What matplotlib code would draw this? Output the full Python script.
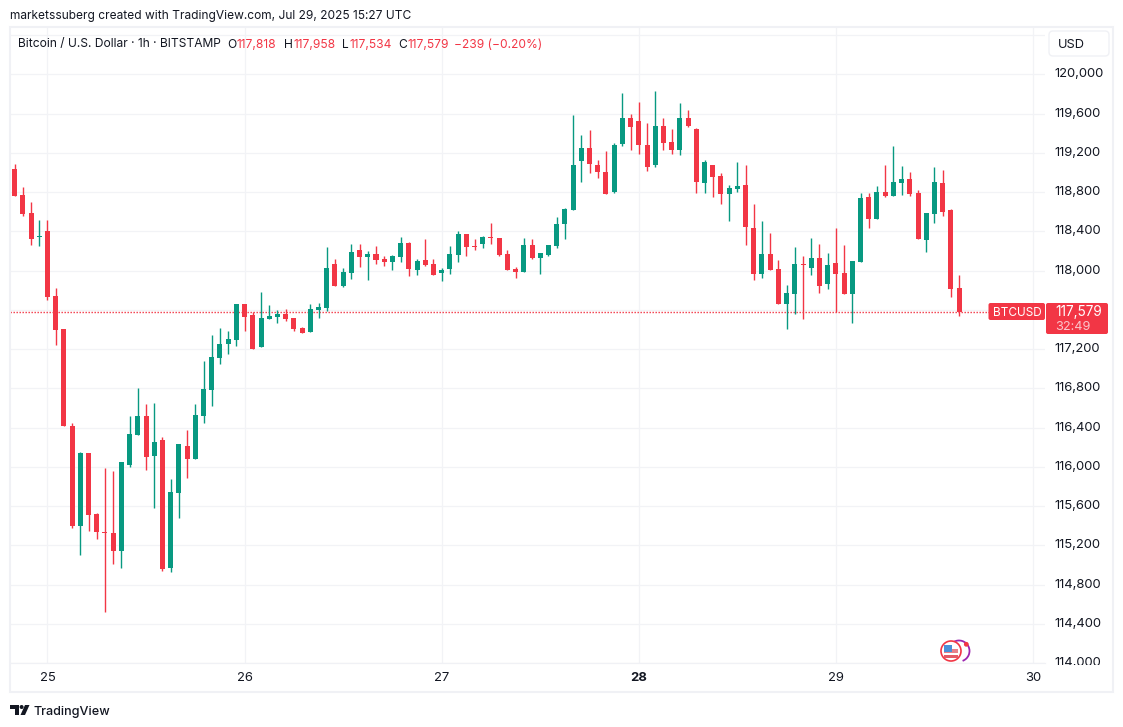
import matplotlib
matplotlib.use('Agg')
import matplotlib.pyplot as plt
from matplotlib.patches import Rectangle, FancyBboxPatch, Circle, Arc, Polygon
from matplotlib.transforms import ScaledTranslation
import numpy as np

plt.rcParams['font.family'] = ['Inter', 'DejaVu Sans']

# hourly candles, first one is Jul 24 20:00
opens = [119035, 118770, 118586, 118342, 118403, 117741, 117405, 116416, 115397, 116141, 115519, 115336,
         115326, 115142, 116019, 116324, 116518, 116110, 116273, 114969, 115733, 116212, 116080, 116518,
         116783, 117109, 117252, 117292, 117659, 117547, 117221, 117506, 117527, 117557, 117517, 117415,
         117374, 117598, 117618, 118067, 117843, 117975, 118210, 118138, 118169, 118118, 118087, 118138,
         118281, 118006, 118108, 118067, 117975, 118016, 118159, 118373, 118250, 118271, 118342, 118332,
         118169, 118016, 117985, 118260, 118128, 118159, 118250, 118474, 118617, 119116, 119249, 119076,
         119004, 118800, 119290, 119554, 119524, 119279, 119076, 119473, 119310, 119228, 119554, 119443,
         118892, 119076, 118964, 118780, 118831, 118872, 118434, 117965, 118169, 118016, 117659, 117761,
         118067, 118026, 118128, 117863, 118077, 117975, 117761, 118087, 118750, 118525, 118800, 118760,
         118892, 118933, 118790, 118311, 118576, 118892, 118617, 117818]
highs = [119086, 118851, 118699, 118515, 118515, 117822, 117405, 116447, 116151, 116141, 115530, 115988,
         115958, 116049, 116518, 116803, 116640, 116650, 116304, 115876, 116233, 116375, 116640, 117078,
         117343, 117415, 117384, 117659, 117659, 117578, 117781, 117649, 117598, 117608, 117517, 117425,
         117659, 117669, 118240, 118118, 118026, 118271, 118271, 118199, 118250, 118148, 118159, 118342,
         118291, 118118, 118322, 118118, 118026, 118250, 118403, 118373, 118322, 118352, 118485, 118332,
         118210, 118036, 118332, 118322, 118179, 118260, 118546, 118637, 119585, 119381, 119432, 119127,
         119218, 119300, 119809, 119595, 119718, 119504, 119830, 119554, 119443, 119707, 119636, 119453,
         119127, 119076, 118994, 118872, 119106, 119076, 118678, 118505, 118383, 118108, 117853, 118240,
         118148, 118332, 118271, 118179, 118434, 118260, 118097, 118790, 118790, 118862, 119076, 119269,
         119065, 119004, 118821, 118586, 119055, 119025, 118627, 117958]
lows = [118760, 118556, 118260, 118250, 117700, 117242, 116416, 115377, 115102, 115346, 115265, 114521,
        115010, 114969, 115998, 116324, 115968, 115580, 114939, 114928, 115479, 115886, 116080, 116447,
        116620, 117048, 117150, 117231, 117384, 117201, 117221, 117506, 117466, 117486, 117384, 117364,
        117374, 117517, 117588, 117843, 117832, 117914, 118036, 117904, 118067, 118046, 118006, 118087,
        117945, 117955, 118046, 117955, 117894, 117965, 118087, 118148, 118210, 118230, 118271, 118148,
        118006, 117924, 117985, 118118, 117965, 118148, 118230, 118322, 118617, 118902, 118994, 118943,
        118780, 118790, 119269, 119228, 119188, 119014, 119055, 119228, 119188, 119178, 119463, 118790,
        118790, 118750, 118678, 118505, 118800, 118260, 117904, 117924, 118006, 117659, 117405, 117557,
        117506, 117955, 117771, 117812, 117578, 117761, 117466, 118087, 118434, 118525, 118750, 118760,
        118770, 118760, 118322, 118189, 118485, 118556, 117731, 117534]
closes = [118760, 118576, 118322, 118352, 117731, 117394, 116416, 115397, 116141, 115509, 115336, 115326,
          115142, 116049, 116335, 116518, 116100, 116253, 114959, 115743, 116233, 116080, 116528, 116793,
          117119, 117252, 117303, 117659, 117527, 117201, 117517, 117537, 117557, 117506, 117405, 117364,
          117608, 117629, 118026, 117843, 117985, 118189, 118138, 118169, 118108, 118087, 118148, 118281,
          118016, 118097, 118057, 117955, 118006, 118169, 118373, 118240, 118240, 118342, 118332, 118159,
          118006, 117985, 118260, 118128, 118179, 118260, 118474, 118627, 119076, 119249, 119086, 119004,
          118780, 119279, 119554, 119463, 119279, 119055, 119473, 119300, 119228, 119554, 119473, 118902,
          119106, 118953, 118780, 118841, 118862, 118444, 117965, 118169, 118006, 117659, 117771, 118067,
          118057, 118128, 117843, 118057, 117965, 117761, 118097, 118739, 118525, 118800, 118760, 118902,
          118933, 118780, 118322, 118586, 118902, 118597, 117812, 117579]

price_ticks = [114000, 114400, 114800, 115200, 115600, 116000, 116400, 116800, 117200, 117600,
               118000, 118400, 118800, 119200, 119600, 120000]
day_ticks = [0, 24, 48, 72, 96, 120]
day_labels = ['25', '26', '27', '28', '29', '30']

RED = '#F23645'
GREEN = '#089981'
GRID = '#F2F3F6'
FRAME = '#F0F1F5'
TEXT = '#131722'
W, H = 1123, 727


def rect(x0, y0, x1, y1):
    # pixel box (y down) -> figure fraction
    return [x0 / W, 1 - y1 / H, (x1 - x0) / W, (y1 - y0) / H]


fig = plt.figure(figsize=(W / 100, H / 100), dpi=100, facecolor='white')

# chart pane
ax = fig.add_axes(rect(10, 27, 1045, 663))
ax.set_xlim(-4.566, 121.46)
ax.set_ylim(114001, 120482)

hours = np.arange(-4, 112)
o = np.array(opens)
c = np.array(closes)
cols = [GREEN if cc >= oo else RED for oo, cc in zip(o, c)]

ax.axhline(closes[-1], color=RED, lw=1.0, ls=(0, (1.0, 1.16)), zorder=1.5)
ax.vlines(hours, lows, highs, colors=cols, lw=1.0, zorder=2, snap=True)
ax.bar(hours, np.abs(c - o), bottom=np.minimum(o, c), width=0.61, color=cols, linewidth=0, zorder=3)

ax.set_yticks(price_ticks)
# 117,600 sits under the last price tag
ax.set_yticklabels(['' if p == 117600 else f'{p:,}' for p in price_ticks], fontsize=9.4, color=TEXT)
ax.yaxis.tick_right()
ax.tick_params(axis='y', length=0, pad=6.5)
for lbl in ax.get_yticklabels():
    lbl.set_transform(lbl.get_transform() + ScaledTranslation(0, 0.015, fig.dpi_scale_trans))
ax.set_xticks(day_ticks)
ax.tick_params(axis='x', length=0, labelbottom=False)
ax.grid(True, color=GRID, lw=0.9)
ax.set_axisbelow(True)
ax.axhline(120400, color=GRID, lw=0.9, zorder=0.5)
for s in ['top', 'left', 'right']:
    ax.spines[s].set_visible(False)
ax.spines['bottom'].set_color(FRAME)
ax.spines['bottom'].set_linewidth(0.9)

# time scale, also cuts the 114,000 label like the original
ax_time = fig.add_axes(rect(10, 664.5, 1113, 692), zorder=3)
ax_time.set_xlim(-4.566, (1113 - 47.5) / 8.2125)
ax_time.set_ylim(0, 1)
ax_time.set_yticks([])
ax_time.set_xticks(day_ticks)
ax_time.set_xticklabels(day_labels, fontsize=9.4, color=TEXT)
ax_time.get_xticklabels()[3].set_fontweight('bold')
ax_time.tick_params(axis='x', length=0, direction='in', pad=-14.5)
for s in ax_time.spines.values():
    s.set_visible(False)

# everything drawn on top, in pixels
top = fig.add_axes([0, 0, 1, 1], zorder=5)
top.set_xlim(0, W)
top.set_ylim(H, 0)
top.axis('off')

top.add_patch(Rectangle((10, 27), 1103, 665, fill=False, ec=FRAME, lw=1.5))

top.text(10.5, 16, 'marketssuberg created with TradingView.com, Jul 29, 2025 15:27 UTC',
         fontsize=8.6, color=TEXT, va='center')

legend_parts = [
    (18.5, 'Bitcoin / U.S. Dollar · 1h · BITSTAMP', TEXT),
    (227.5, 'O', TEXT), (236.4, '117,818', RED),
    (284, 'H', TEXT), (293, '117,958', RED),
    (342, 'L', TEXT), (349, '117,534', RED),
    (398, 'C', TEXT), (407, '117,579', RED),
    (454, '−239 (−0.20%)', RED),
]
for x, s, col in legend_parts:
    top.text(x, 44.5, s, fontsize=8.65, color=col, va='center')

# USD button
top.add_patch(FancyBboxPatch((1049, 31), 60, 25, boxstyle='round,pad=0,rounding_size=4',
                             fc='white', ec=FRAME, lw=1))
top.text(1058, 44.5, 'USD', fontsize=9.2, color=TEXT, va='center')

# last price tags
top.add_patch(FancyBboxPatch((988.5, 303), 56.5, 17, boxstyle='round,pad=0,rounding_size=2',
                             fc=RED, ec='none'))
top.text(992.5, 313, 'BTCUSD', fontsize=8.5, color='white', va='center')
top.add_patch(FancyBboxPatch((1046, 303), 62, 31, boxstyle='round,pad=0,rounding_size=2',
                             fc=RED, ec='none'))
top.text(1055, 312, '117,579', fontsize=9.8, color='white', va='center')
top.text(1055, 326.5, '32:49', fontsize=9.2, color='#FBC4CA', va='center')

# flag icon
top.add_patch(Arc((959, 651), 21, 21, theta1=-120, theta2=70, ec='#9C27B0', lw=1.3))
top.add_patch(Circle((966.3, 644.3), 2.4, fc=RED, ec='none'))
top.add_patch(Circle((951, 651), 10, fc='white', ec=RED, lw=1.2))
top.add_patch(Rectangle((944, 649), 14, 3.5, fc='#E8808A', ec='none'))
top.add_patch(Rectangle((944, 655), 14, 3, fc='#E35A66', ec='none'))
top.add_patch(Rectangle((944, 644.5), 8, 7, fc='#4A90D9', ec='none'))

# TradingView logo
top.add_patch(Polygon([(10, 705), (19, 705), (19, 715), (15, 715), (15, 709), (10, 709)], fc=TEXT, ec='none'))
top.add_patch(Circle((21.6, 707), 2, fc=TEXT, ec='none'))
top.add_patch(Polygon([(25, 705), (29.5, 705), (25, 715), (20.5, 715)], fc=TEXT, ec='none'))
top.text(33.5, 712, 'TradingView', fontsize=9.1, color=TEXT, va='center', fontweight='medium')

fig.savefig('out.png', dpi=100)
